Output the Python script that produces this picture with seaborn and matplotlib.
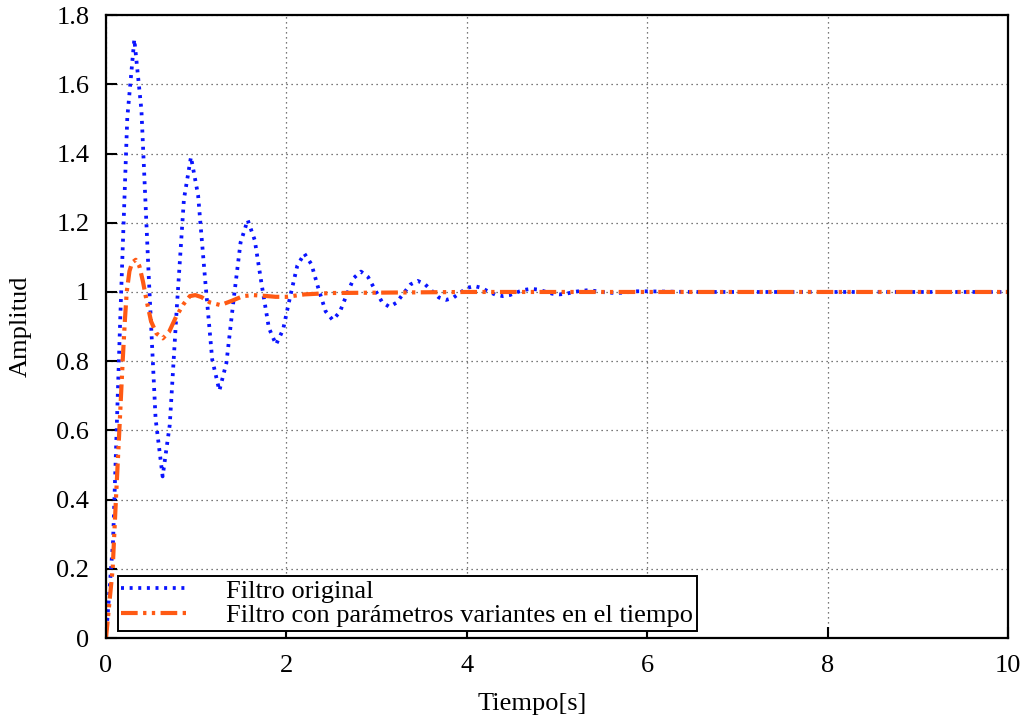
import numpy as np
import pandas as pd
import matplotlib
matplotlib.use("Agg")
import matplotlib.pyplot as plt
import seaborn as sns

# ---- data ----
t_orig = [0.000, 0.0785, 0.157, 0.236, 0.314, 0.393, 0.471, 0.550, 0.628, 0.707,
          0.785, 0.864, 0.942, 1.021, 1.100, 1.178, 1.257, 1.335, 1.414, 1.492,
          1.571, 1.649, 1.728, 1.806, 1.885, 1.963, 2.042, 2.121, 2.199, 2.278,
          2.356, 2.435, 2.513, 2.592, 2.670, 2.749, 2.827, 2.906, 2.985, 3.063,
          3.142, 3.220, 3.299, 3.377, 3.456, 3.534, 3.613, 3.691, 3.770, 3.848,
          3.927, 4.006, 4.084, 4.163, 4.241, 4.320, 4.398, 4.477, 4.555, 4.634,
          4.712, 4.791, 4.869, 4.948, 5.027, 5.105, 5.184, 5.262, 5.341, 5.419,
          5.498, 5.576, 5.655, 5.733, 5.812, 5.890, 5.969, 6.5, 7.0, 8.0, 9.0, 10.0]
y_orig = [0.000, 0.281, 0.915, 1.503, 1.730, 1.525, 1.062, 0.633, 0.467, 0.616,
          0.954, 1.268, 1.390, 1.280, 1.033, 0.804, 0.715, 0.795, 0.976, 1.143,
          1.208, 1.150, 1.018, 0.896, 0.848, 0.891, 0.987, 1.076, 1.111, 1.080,
          1.009, 0.944, 0.919, 0.942, 0.993, 1.041, 1.059, 1.043, 1.005, 0.970,
          0.957, 0.969, 0.996, 1.022, 1.032, 1.023, 1.003, 0.984, 0.977, 0.983,
          0.998, 1.012, 1.017, 1.012, 1.001, 0.992, 0.988, 0.991, 0.999, 1.006,
          1.009, 1.007, 1.001, 0.995, 0.993, 0.995, 1.000, 1.003, 1.005, 1.003,
          1.000, 0.998, 0.997, 0.998, 1.000, 1.002, 1.002, 1.000, 1.000, 1.000, 1.000, 1.000]

t_var = [0.000, 0.037, 0.074, 0.110, 0.148, 0.185, 0.210, 0.230, 0.260, 0.290,
         0.330, 0.370, 0.410, 0.450, 0.500, 0.560, 0.630, 0.700, 0.780, 0.860,
         0.930, 0.990, 1.060, 1.150, 1.270, 1.400, 1.520, 1.630, 1.750, 1.880,
         2.000, 2.200, 2.500, 3.000, 3.500, 4.000, 5.000, 6.000, 8.000, 10.000]
y_var = [0.000, 0.100, 0.200, 0.400, 0.600, 0.800, 0.920, 1.000, 1.060, 1.085,
         1.093, 1.075, 1.030, 0.975, 0.915, 0.880, 0.866, 0.885, 0.930, 0.965,
         0.988, 0.991, 0.985, 0.970, 0.962, 0.975, 0.988, 0.991, 0.989, 0.986,
         0.986, 0.993, 0.997, 0.998, 0.999, 1.000, 1.000, 1.000, 1.000, 1.000]

label_orig = "Filtro original"
label_var = "Filtro con parámetros variantes en el tiempo"
x_ticks = [0, 2, 4, 6, 8, 10]
y_ticks = [0, 0.2, 0.4, 0.6, 0.8, 1, 1.2, 1.4, 1.6, 1.8]
y_ticklabels = ["0", "0.2", "0.4", "0.6", "0.8", "1", "1.2", "1.4", "1.6", "1.8"]

sns.set_theme(style="white")
plt.rcParams["font.family"] = ["Liberation Serif", "DejaVu Serif"]
plt.rcParams["text.color"] = "black"
plt.rcParams["axes.labelcolor"] = "black"
plt.rcParams["xtick.color"] = "black"
plt.rcParams["ytick.color"] = "black"

fig = plt.figure(figsize=(10.27, 7.21), dpi=100)
ax = fig.add_axes([0.1032, 0.1151, 0.8783, 0.8639])

df_o = pd.DataFrame({"t": t_orig, "y": y_orig})
df_v = pd.DataFrame({"t": t_var, "y": y_var})

sns.lineplot(data=df_o, x="t", y="y", ax=ax, color="#0a14ff", linewidth=2.7,
             linestyle=(0, (0.8, 1.5)), label=label_orig, errorbar=None, sort=False)
sns.lineplot(data=df_v, x="t", y="y", ax=ax, color="#ff5a14", linewidth=3.0,
             linestyle=(0, (4.0, 1.3, 0.8, 1.3, 0.8, 1.3)), label=label_var,
             errorbar=None, sort=False)

ax.set_xlim(0, 10)
ax.set_ylim(0, 1.8)
ax.set_xticks(x_ticks)
ax.set_xticklabels([str(v) for v in x_ticks])
ax.set_yticks(y_ticks)
ax.set_yticklabels(y_ticklabels)
ax.tick_params(axis="both", direction="in", length=8, width=1.5, colors="black",
               labelcolor="black", labelsize=19, bottom=True, left=True,
               top=False, right=False)
ax.tick_params(axis="y", pad=12)
ax.tick_params(axis="x", pad=12)

ax.grid(True, color="0.3", linestyle=(0, (1, 3)), linewidth=0.9)
for s in ax.spines.values():
    s.set_color("black")
    s.set_linewidth(1.6)

ax.set_xlabel("Tiempo[s]", fontsize=19, color="black")
ax.set_ylabel("Amplitud", fontsize=19, color="black")
ax.xaxis.set_label_coords(0.473, -0.089)
ax.yaxis.set_label_coords(-0.082, 0.5)

leg = ax.legend(loc="lower left", bbox_to_anchor=(0.013, 0.012), fontsize=19,
                frameon=True, fancybox=False, handlelength=2.5, handletextpad=1.5,
                borderpad=0.12, borderaxespad=0, labelspacing=0.05)
leg.get_frame().set_edgecolor("black")
leg.get_frame().set_linewidth(1.4)
leg.get_frame().set_alpha(1)
for txt in leg.get_texts():
    txt.set_color("black")

fig.savefig("out.png", dpi=100)
